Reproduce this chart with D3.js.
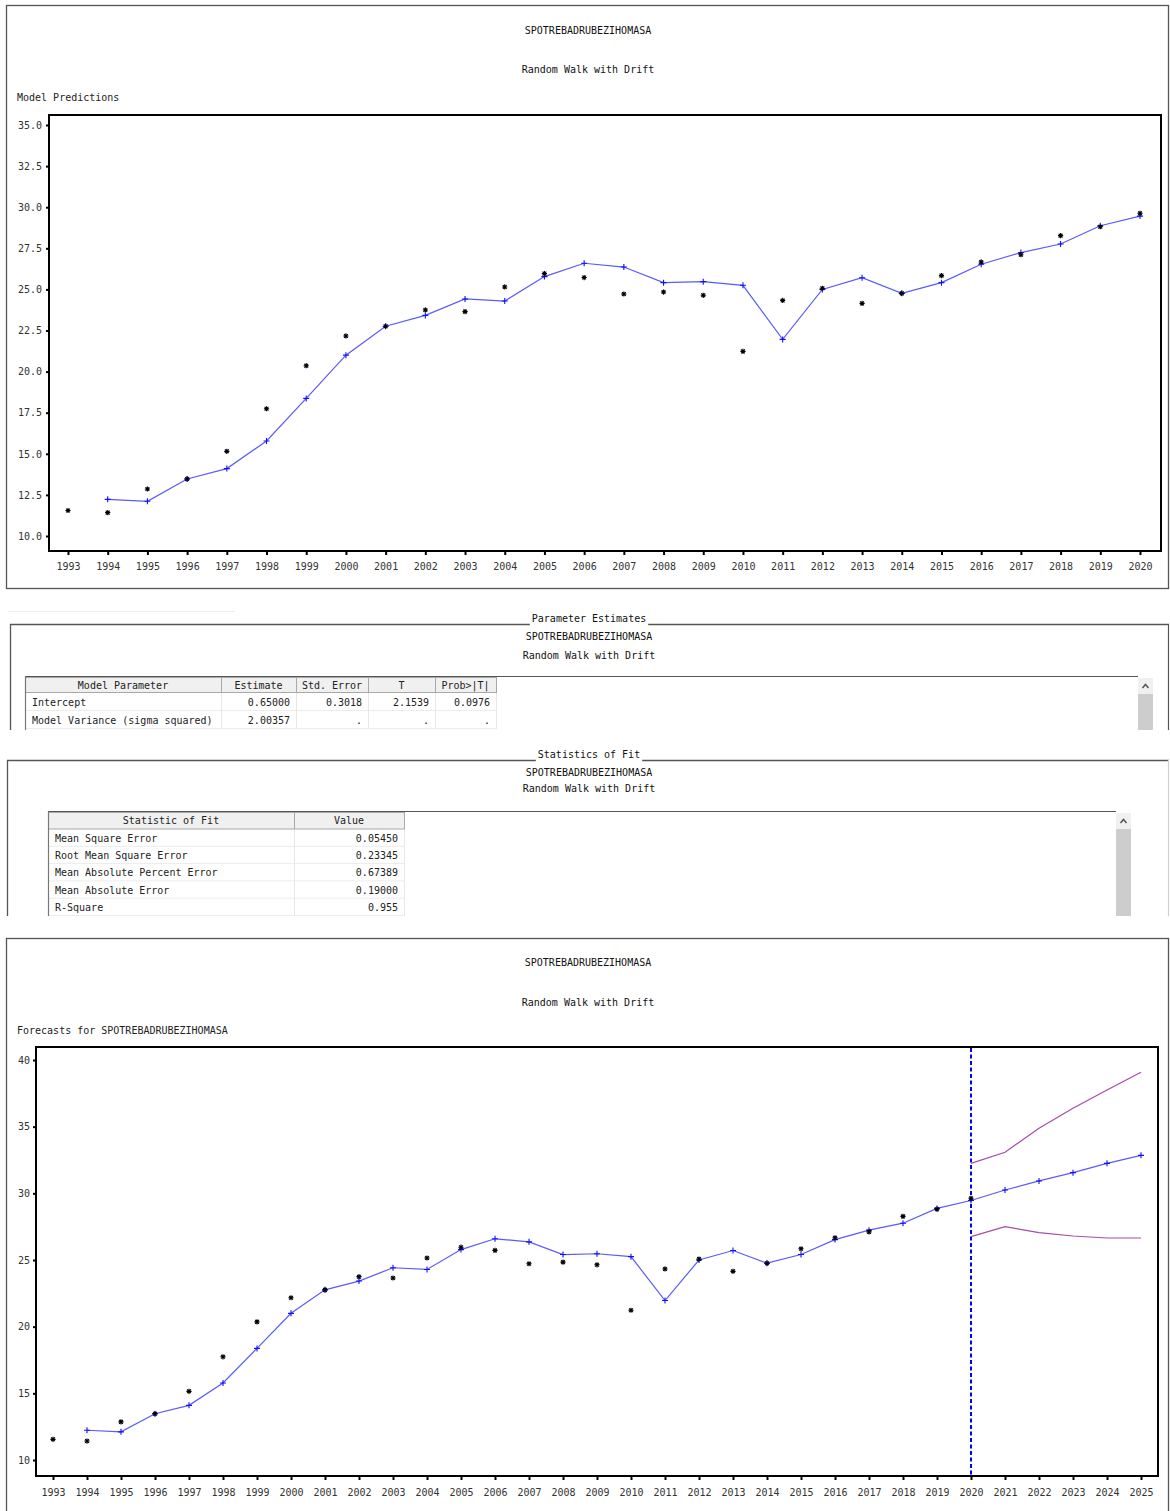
<!DOCTYPE html>
<html>
<head>
<meta charset="utf-8">
<script src="https://cdn.jsdelivr.net/npm/d3@7"></script>
<style>
body { margin: 0; background: #fff; }
text { font-family: "DejaVu Sans Mono", monospace; font-size: 10px; fill: #222; }
</style>
</head>
<body>
<div id="main"></div>
<script>
// series
var years = [1993, 1994, 1995, 1996, 1997, 1998, 1999, 2000, 2001, 2002, 2003, 2004, 2005, 2006,
  2007, 2008, 2009, 2010, 2011, 2012, 2013, 2014, 2015, 2016, 2017, 2018, 2019, 2020];
var actual = [11.55, 11.42, 12.86, 13.47, 15.15, 17.74, 20.36, 22.17, 22.76, 23.75, 23.65, 25.15, 25.96, 25.72,
  24.72, 24.84, 24.64, 21.23, 24.33, 25.07, 24.15, 24.76, 25.84, 26.67, 27.11, 28.27, 28.81, 29.63];
var predYears = [1994, 1995, 1996, 1997, 1998, 1999, 2000, 2001, 2002, 2003, 2004, 2005, 2006,
  2007, 2008, 2009, 2010, 2011, 2012, 2013, 2014, 2015, 2016, 2017, 2018, 2019, 2020];
var predicted = [12.23, 12.11, 13.47, 14.10, 15.78, 18.37, 21.00, 22.76, 23.42, 24.42, 24.29, 25.78, 26.59,
  26.36, 25.41, 25.47, 25.25, 21.96, 25.00, 25.71, 24.76, 25.41, 26.53, 27.24, 27.76, 28.87, 29.46];
var forecastYears = [2021, 2022, 2023, 2024, 2025];
var forecast = [30.25, 30.93, 31.55, 32.25, 32.85];
var ciYears = [2020, 2021, 2022, 2023, 2024, 2025];
var upper95 = [32.25, 33.08, 34.88, 36.38, 37.75, 39.08];
var lower95 = [26.75, 27.50, 27.05, 26.80, 26.65, 26.65];

var topYTicks = [10, 12.5, 15, 17.5, 20, 22.5, 25, 27.5, 30, 32.5, 35];
var botYTicks = [10, 15, 20, 25, 30, 35, 40];
var botYears = years.concat(forecastYears);

var seriesName = 'SPOTREBADRUBEZIHOMASA';
var modelName = 'Random Walk with Drift';

var paramHeaders = ['Model Parameter', 'Estimate', 'Std. Error', 'T', 'Prob>|T|'];
var paramRows = [
  ['Intercept', '0.65000', '0.3018', '2.1539', '0.0976'],
  ['Model Variance (sigma squared)', '2.00357', '.', '.', '.']
];
var fitHeaders = ['Statistic of Fit', 'Value'];
var fitRows = [
  ['Mean Square Error', '0.05450'],
  ['Root Mean Square Error', '0.23345'],
  ['Mean Absolute Percent Error', '0.67389'],
  ['Mean Absolute Error', '0.19000'],
  ['R-Square', '0.955']
];

var width = 1170, height = 1511;
var svg = d3.select('#main').append('svg').attr('width', width).attr('height', height);

function pts(xs, vs) {
  return xs.map(function (d, i) { return { year: d, v: vs[i] }; });
}

var starPath = 'M-2.6,0L2.6,0M0,-2.6L0,2.6M-1.9,-1.9L1.9,1.9M-1.9,1.9L1.9,-1.9';
var plusPath = 'M-3,0L3,0M0,-3L0,3';

function drawChart(c) {
  var g = svg.append('g');
  var x = d3.scaleLinear().domain(c.xDomain).range(c.xRange);
  var y = d3.scaleLinear().domain(c.yDomain).range(c.yRange);

  g.append('text').attr('x', 588).attr('y', c.titleY).attr('dy', '0.35em')
    .attr('text-anchor', 'middle').style('fill', '#111').text(seriesName);
  g.append('text').attr('x', 588).attr('y', c.titleY + c.subGap).attr('dy', '0.35em')
    .attr('text-anchor', 'middle').style('fill', '#111').text(modelName);
  g.append('text').attr('x', 17).attr('y', c.labelY).attr('dy', '0.35em').text(c.label);

  var yAxis = d3.axisLeft(y).tickValues(c.yTicks).tickSize(3).tickPadding(c.yPad).tickFormat(c.yFormat);
  var ya = g.append('g').attr('transform', 'translate(' + c.box[0] + ',0)').call(yAxis);
  var xAxis = d3.axisBottom(x).tickValues(c.xTicks).tickSize(4).tickPadding(c.xPad).tickFormat(d3.format('d'));
  var xa = g.append('g').attr('transform', 'translate(0,' + c.box[3] + ')').call(xAxis);
  [ya, xa].forEach(function (a) {
    a.select('.domain').remove();
    a.selectAll('line').attr('stroke', '#000').attr('stroke-width', 2);
    a.selectAll('text').style('font-family', '"DejaVu Sans Mono", monospace').style('font-size', '10px').style('fill', '#333');
  });

  g.append('rect').attr('x', c.box[0]).attr('y', c.box[1])
    .attr('width', c.box[2] - c.box[0]).attr('height', c.box[3] - c.box[1])
    .attr('fill', 'none').attr('stroke', '#000').attr('stroke-width', 2);

  var line = d3.line().x(function (d) { return x(d.year); }).y(function (d) { return y(d.v); });

  if (c.refYear) {
    g.append('line').attr('x1', x(c.refYear)).attr('x2', x(c.refYear))
      .attr('y1', c.box[1] + 1).attr('y2', c.box[3] - 1)
      .attr('stroke', '#0000ff').attr('stroke-width', 2).attr('stroke-dasharray', '4,2.5');
  }
  if (c.bands) {
    c.bands.forEach(function (b) {
      g.append('path').datum(b).attr('d', line).attr('fill', 'none')
        .attr('stroke', '#a64ca6').attr('stroke-width', 1.2);
    });
  }

  g.append('path').datum(c.pred).attr('d', line).attr('fill', 'none')
    .attr('stroke', '#5a5aff').attr('stroke-width', 1.2);
  g.selectAll('.plus').data(c.pred).enter().append('path').attr('class', 'plus')
    .attr('transform', function (d) { return 'translate(' + x(d.year) + ',' + y(d.v) + ')'; })
    .attr('d', plusPath).attr('stroke', '#1010ff').attr('stroke-width', 1.1);
  g.selectAll('.star').data(c.act).enter().append('path').attr('class', 'star')
    .attr('transform', function (d) { return 'translate(' + x(d.year) + ',' + y(d.v) + ')'; })
    .attr('d', starPath).attr('stroke', '#000').attr('stroke-width', 1.1);
}

// panel borders
svg.append('rect').attr('x', 6.5).attr('y', 5.5).attr('width', 1162).attr('height', 583)
  .attr('fill', 'none').attr('stroke', '#555').attr('stroke-width', 1.3);
svg.append('rect').attr('x', 6.5).attr('y', 938.5).attr('width', 1162).attr('height', 600)
  .attr('fill', 'none').attr('stroke', '#555').attr('stroke-width', 1.3);

drawChart({
  titleY: 30, subGap: 39, labelY: 97, label: 'Model Predictions',
  box: [49, 115, 1161, 551],
  xDomain: [1993, 2020], xRange: [68, 1140], xTicks: years, xPad: 8,
  yDomain: [10, 35], yRange: [536, 125], yTicks: topYTicks, yPad: 4, yFormat: d3.format('.1f'),
  act: pts(years, actual), pred: pts(predYears, predicted)
});

drawChart({
  titleY: 962, subGap: 40, labelY: 1030, label: 'Forecasts for ' + seriesName,
  box: [36, 1047, 1158, 1476],
  xDomain: [1993, 2025], xRange: [53, 1141], xTicks: botYears, xPad: 9,
  yDomain: [10, 40], yRange: [1460, 1060], yTicks: botYTicks, yPad: 3, yFormat: d3.format('d'),
  act: pts(years, actual), pred: pts(predYears.concat(forecastYears), predicted.concat(forecast)),
  refYear: 2020, bands: [pts(ciYears, upper95), pts(ciYears, lower95)]
});

// faint separator
svg.append('line').attr('x1', 8).attr('x2', 235).attr('y1', 611.5).attr('y2', 611.5)
  .attr('stroke', '#eeeeee').attr('stroke-width', 1);

function drawSection(s) {
  var g = svg.append('g');
  var clipId = 'clip' + s.lineY;
  svg.append('clipPath').attr('id', clipId).append('rect')
    .attr('x', 0).attr('y', s.lineY - 20).attr('width', width).attr('height', s.bottom - s.lineY + 20);
  g.attr('clip-path', 'url(#' + clipId + ')');

  var t = g.append('text').attr('x', 589).attr('y', s.lineY - 6).attr('dy', '0.35em')
    .attr('text-anchor', 'middle').style('fill', '#111').text(s.title);
  var bb = t.node().getBBox();
  g.append('line').attr('x1', s.left).attr('x2', bb.x - 2).attr('y1', s.lineY + 0.5).attr('y2', s.lineY + 0.5)
    .attr('stroke', '#555').attr('stroke-width', 1.3);
  g.append('line').attr('x1', bb.x + bb.width + 2).attr('x2', 1169).attr('y1', s.lineY + 0.5).attr('y2', s.lineY + 0.5)
    .attr('stroke', '#555').attr('stroke-width', 1.3);
  g.append('line').attr('x1', s.left + 0.5).attr('x2', s.left + 0.5).attr('y1', s.lineY).attr('y2', s.bottom)
    .attr('stroke', '#555').attr('stroke-width', 1.3);
  g.append('line').attr('x1', 1168.5).attr('x2', 1168.5).attr('y1', s.lineY).attr('y2', s.bottom)
    .attr('stroke', s.rightColor).attr('stroke-width', 1.2);

  g.append('text').attr('x', 589).attr('y', s.lineY + 12).attr('dy', '0.35em')
    .attr('text-anchor', 'middle').style('fill', '#111').text(seriesName);
  g.append('text').attr('x', 589).attr('y', s.lineY + s.subY).attr('dy', '0.35em')
    .attr('text-anchor', 'middle').style('fill', '#111').text(modelName);

  // table
  var cols = s.cols, y0 = s.tableY, hh = s.headH, rh = s.rowH;
  g.append('line').attr('x1', cols[0]).attr('x2', s.scrollX).attr('y1', y0 + 0.5).attr('y2', y0 + 0.5)
    .attr('stroke', '#555').attr('stroke-width', 1.2);
  s.headers.forEach(function (h, i) {
    g.append('rect').attr('x', cols[i] + 0.5).attr('y', y0 + 1.5)
      .attr('width', cols[i + 1] - cols[i]).attr('height', hh - 1)
      .attr('fill', '#f0f0f0').attr('stroke', '#a8a8a8').attr('stroke-width', 1);
    g.append('text').attr('x', (cols[i] + cols[i + 1]) / 2).attr('y', y0 + 1 + hh / 2).attr('dy', '0.35em')
      .attr('text-anchor', 'middle').text(h);
  });
  var ry0 = y0 + 1 + hh;
  s.rows.forEach(function (r, j) {
    var ry = ry0 + j * rh;
    g.append('line').attr('x1', cols[0]).attr('x2', cols[cols.length - 1]).attr('y1', ry + rh - 0.5).attr('y2', ry + rh - 0.5)
      .attr('stroke', '#ececec');
    r.forEach(function (v, i) {
      if (i > 0) {
        g.append('line').attr('x1', cols[i] + 0.5).attr('x2', cols[i] + 0.5).attr('y1', ry).attr('y2', ry + rh)
          .attr('stroke', '#e6e6e6');
      }
      g.append('text').attr('x', i === 0 ? cols[i] + 7 : cols[i + 1] - 6).attr('y', ry + rh / 2).attr('dy', '0.35em')
        .attr('text-anchor', i === 0 ? 'start' : 'end').text(v);
    });
    g.append('line').attr('x1', cols[cols.length - 1] + 0.5).attr('x2', cols[cols.length - 1] + 0.5)
      .attr('y1', ry).attr('y2', ry + rh).attr('stroke', '#e6e6e6');
  });
  g.append('line').attr('x1', cols[0] + 0.5).attr('x2', cols[0] + 0.5).attr('y1', y0).attr('y2', s.bottom)
    .attr('stroke', '#777').attr('stroke-width', 1.2);

  // scrollbar
  g.append('rect').attr('x', s.scrollX).attr('y', y0 + 2).attr('width', 15).attr('height', 16).attr('fill', '#f0f0f0');
  g.append('path').attr('d', 'M' + (s.scrollX + 4.5) + ',' + (y0 + 12) + 'L' + (s.scrollX + 7.5) + ',' + (y0 + 8.5) + 'L' + (s.scrollX + 10.5) + ',' + (y0 + 12))
    .attr('fill', 'none').attr('stroke', '#555').attr('stroke-width', 1.5);
  g.append('rect').attr('x', s.scrollX).attr('y', y0 + 18).attr('width', 15).attr('height', s.bottom - y0 - 18).attr('fill', '#cdcdcd');
}

drawSection({
  title: 'Parameter Estimates', lineY: 624, left: 10, bottom: 730, subY: 31, rightColor: '#555',
  tableY: 676, headH: 16, rowH: 18, cols: [25, 221, 296, 368, 435, 496],
  headers: paramHeaders, rows: paramRows, scrollX: 1138
});

drawSection({
  title: 'Statistics of Fit', lineY: 760, left: 7, bottom: 916, subY: 28, rightColor: '#d0d0d0',
  tableY: 811, headH: 17.5, rowH: 17.3, cols: [48, 294, 404],
  headers: fitHeaders, rows: fitRows, scrollX: 1116
});
</script>
</body>
</html>
